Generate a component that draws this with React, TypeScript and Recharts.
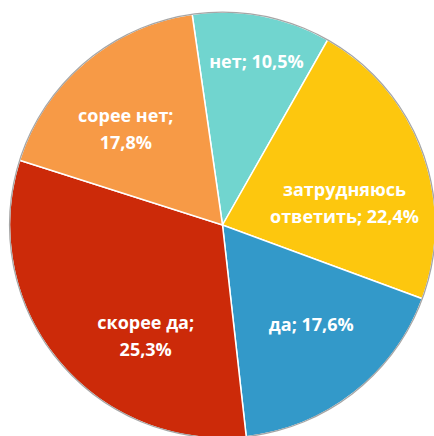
import React from 'react';
import { PieChart, Pie, Cell } from 'recharts';

// answers, clockwise from the top
const names = ['нет', 'затрудняюсь ответить', 'да', 'скорее да', 'сорее нет'];
// printed percentages on the labels
const printed = ['10,5', '22,4', '17,6', '25,3', '17,8'];
// share of the circle each slice actually takes in the picture
const shares = [10.5, 22.4, 17.6, 31.7, 17.8];
const colors = ['#71d5cf', '#fdc70e', '#3399c9', '#cc2a09', '#f79a46'];

// how each label is broken into lines
const labelLines = [
  ['нет; 10,5%'],
  ['затрудняюсь', 'ответить; 22,4%'],
  ['да; 17,6%'],
  ['скорее да;', '25,3%'],
  ['сорее нет;', '17,8%'],
];
// small nudges off the default label spot (excel "best fit" look)
const nudge = [
  [9, -32],
  [-4, 24],
  [6, -7],
  [27, 25],
  [-10, 6],
];

const data = names.map((name, i) => ({ name, value: shares[i], pct: printed[i] }));

const RAD = Math.PI / 180;

const renderLabel = (props: any) => {
  const { cx, cy, midAngle, outerRadius, index } = props;
  const r = outerRadius * 0.63;
  const x = cx + r * Math.cos(-midAngle * RAD) + nudge[index][0];
  const y = cy + r * Math.sin(-midAngle * RAD) + nudge[index][1];
  const lines = labelLines[index];
  const lh = 27;
  const top = y - ((lines.length - 1) * lh) / 2;
  return (
    <text
      key={`lbl-${index}`}
      x={x}
      y={top}
      fill="#fff"
      fontSize={18}
      fontWeight={700}
      fontFamily="'Open Sans', sans-serif"
      textAnchor="middle"
      dominantBaseline="central"
    >
      {lines.map((l, j) => (
        <tspan key={j} x={x} y={top + j * lh}>
          {l}
        </tspan>
      ))}
    </text>
  );
};

export default function App() {
  return (
    <div style={{ position: 'absolute', left: 0, top: 0, width: 434, height: 436, background: '#fff' }}>
      <PieChart width={434} height={436} margin={{ top: 0, right: 0, bottom: 0, left: 0 }}>
        <Pie
          data={data}
          dataKey="value"
          cx={222.5}
          cy={225}
          outerRadius={213}
          startAngle={98.2}
          endAngle={-261.8}
          stroke="#fff"
          strokeWidth={1.5}
          label={renderLabel}
          labelLine={false}
          isAnimationActive={false}
        >
          {data.map((d, i) => (
            <Cell key={d.name} fill={colors[i]} />
          ))}
        </Pie>
        <Pie
          data={[{ name: 'rim', value: 1 }]}
          dataKey="value"
          cx={222.5}
          cy={225}
          innerRadius={212.3}
          outerRadius={213.6}
          fill="#a6a6a6"
          stroke="none"
          isAnimationActive={false}
          legendType="none"
        />
      </PieChart>
    </div>
  );
}
